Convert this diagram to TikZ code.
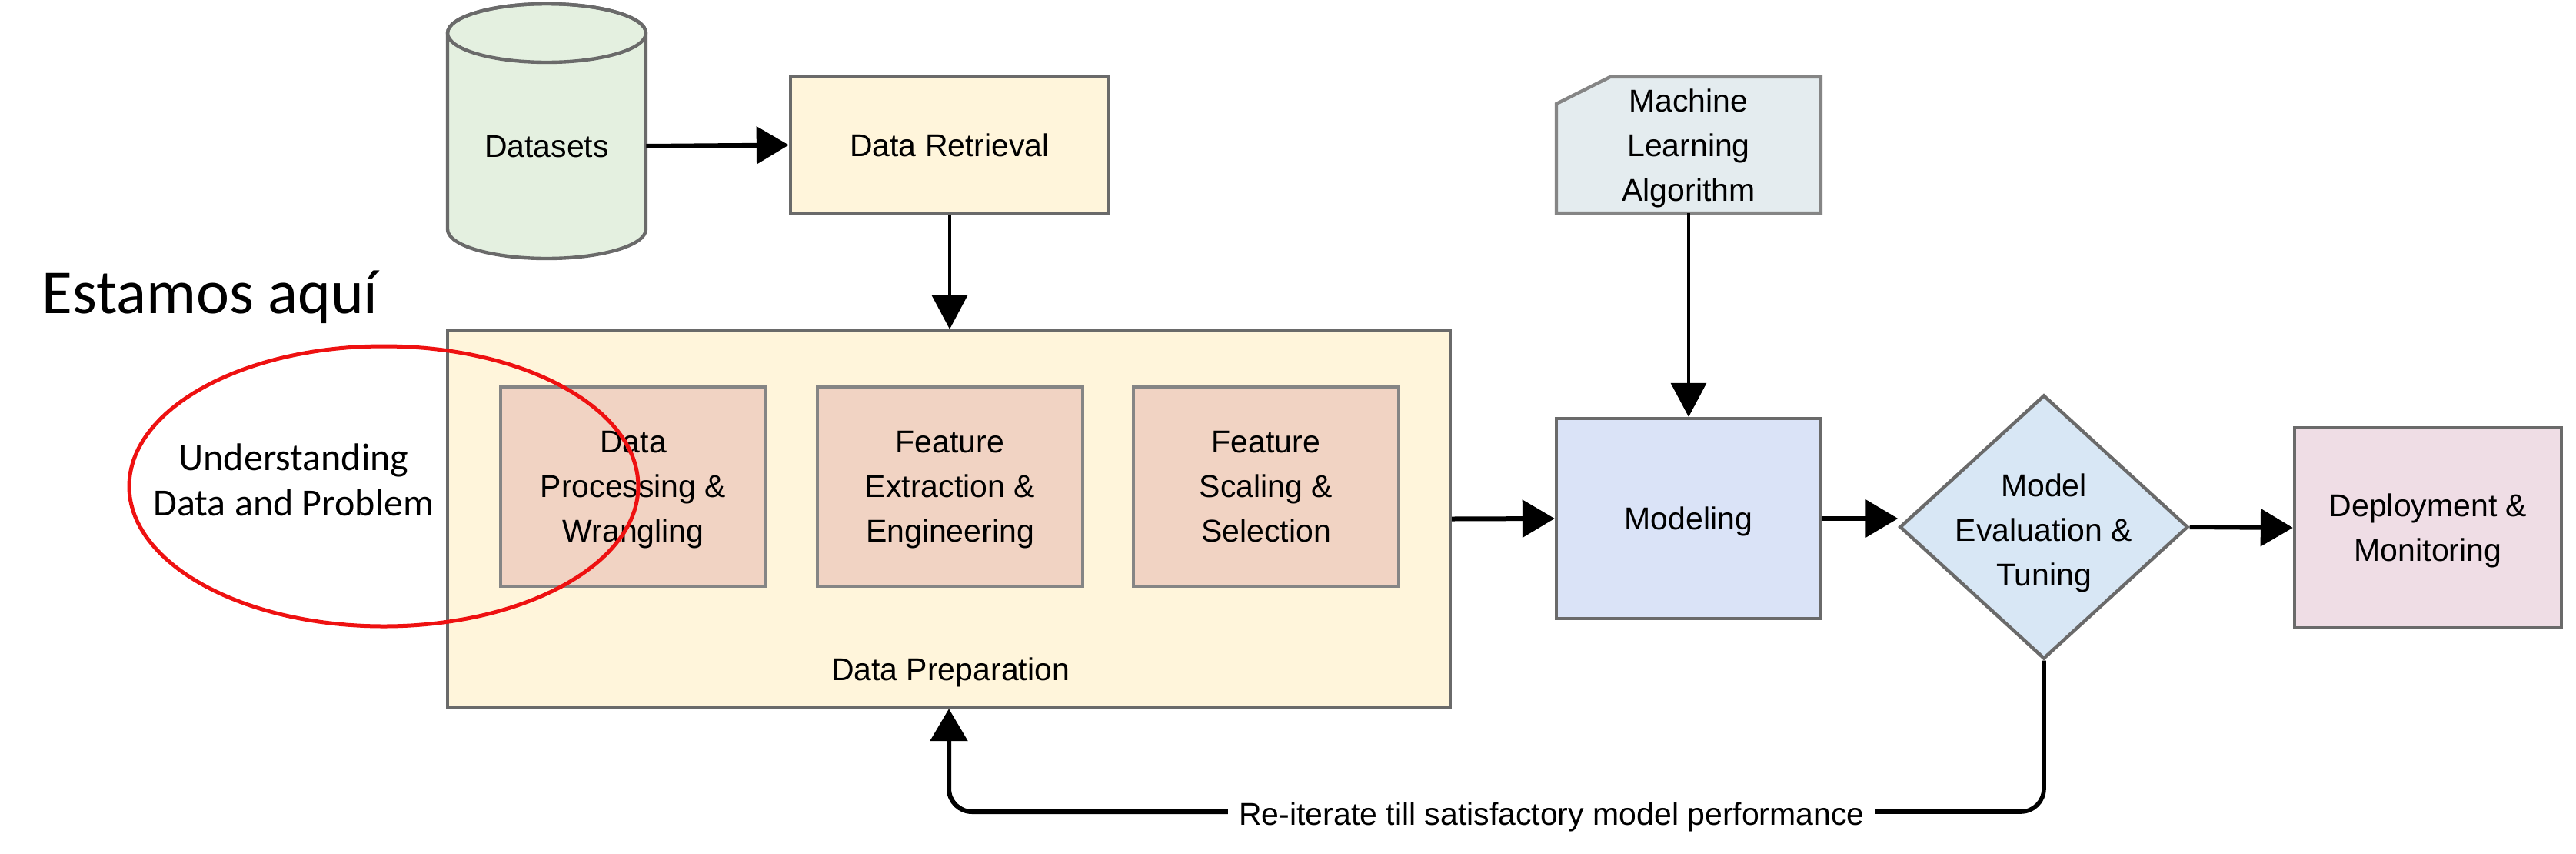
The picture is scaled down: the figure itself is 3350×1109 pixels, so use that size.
\documentclass[tikz,border=0pt]{standalone}
\usepackage{fontspec}
\setmainfont{Liberation Sans}
\newfontfamily\calfont{Carlito}
\usetikzlibrary{arrows.meta,shapes.geometric,calc}
\definecolor{bordergray}{HTML}{6A6A6A}
\definecolor{innergray}{HTML}{858585}
\definecolor{dsfill}{HTML}{E4F0E0}
\definecolor{yelfill}{HTML}{FFF5DB}
\definecolor{infill}{HTML}{F1D3C3}
\definecolor{mlfill}{HTML}{E4ECEF}
\definecolor{modfill}{HTML}{DAE3F7}
\definecolor{evalfill}{HTML}{D8E7F5}
\definecolor{depfill}{HTML}{EFDDE5}
\definecolor{circred}{HTML}{EE1111}
\begin{document}
\begin{tikzpicture}[x=0.5pt,y=-0.5pt,
  txt/.style={font=\fontsize{20.5}{29}\selectfont, align=center, text depth=0pt},
  box/.style={txt, draw=bordergray, line width=2.2pt, inner sep=0pt},
  inbox/.style={txt, draw=innergray, line width=2pt, inner sep=0pt, fill=infill,
    minimum width=172.5pt, minimum height=129.5pt},
  thickarrow/.style={line width=3pt, -{Triangle[width=24pt,length=21pt]}},
  thinarrow/.style={line width=1.75pt, -{Triangle[width=23pt,length=22pt]}},
  thickline/.style={line width=2.8pt}]
\fill[white] (0,0) rectangle (3350,1109);
\useasboundingbox (0,0) rectangle (3350,1109);

% Datasets cylinder
\filldraw[fill=dsfill, draw=bordergray, line width=2.2pt]
  (582,43) -- (582,298) arc[start angle=180,end angle=360,x radius=64.5pt,y radius=19pt]
  -- (840,43) arc[start angle=0,end angle=180,x radius=64.5pt,y radius=19pt] -- cycle;
\draw[draw=bordergray, line width=2.2pt] (711,43) ellipse[x radius=64.5pt,y radius=19pt];
\node[txt, minimum width=129pt, inner sep=0pt] (datasets) at (711,190) {Datasets};

% Data Retrieval
\node[box, fill=yelfill, minimum width=207pt, minimum height=88.5pt] (retrieval) at (1235,188.5) {Data Retrieval};

% Machine Learning Algorithm (chamfered)
\filldraw[fill=mlfill, draw=innergray, line width=2.2pt]
  (2024,277) -- (2024,135) -- (2094,100) -- (2368,100) -- (2368,277) -- cycle;
\node[txt, minimum width=172pt, minimum height=88.5pt, inner sep=0pt] (mla) at (2196,188.5) {Machine\\Learning\\Algorithm};

% Data Preparation
\node[box, fill=yelfill, minimum width=652pt, minimum height=244.5pt] (prep) at (1234,674.5) {};
\node[txt] (preplabel) at (1236,870) {Data Preparation};
\node[inbox] (b1) at (823.5,632.5) {Data\\Processing \&\\Wrangling};
\node[inbox] (b2) at (1235.5,632.5) {Feature\\Extraction \&\\Engineering};
\node[inbox] (b3) at (1646.5,632.5) {Feature\\Scaling \&\\Selection};

% Modeling
\node[box, fill=modfill, minimum width=172pt, minimum height=130pt] (modeling) at (2196,674) {Modeling};

% Evaluation diamond
\node[diamond, draw=bordergray, line width=2.2pt, fill=evalfill, inner sep=0pt,
  minimum width=187.5pt, minimum height=171.5pt] (eval) at (2658,685) {};
\node[txt] (evaltext) at (2658,689) {Model\\Evaluation \&\\Tuning};

% Deployment
\node[box, fill=depfill, minimum width=173.5pt, minimum height=130pt] (deploy) at (3157.5,686) {Deployment \&\\Monitoring};

% Connectors
\draw[thickarrow] (datasets.east) -- (retrieval.west);
\draw[thinarrow] (retrieval.south) -- (retrieval.south |- prep.north);
\draw[thinarrow] (mla.south) -- (modeling.north);
\draw[thickarrow] (prep.east) -- (modeling.west);
\draw[thickarrow] (modeling.east) -- (modeling.east -| eval.west);
\draw[thickarrow] (eval.east) -- (deploy.west);

% Feedback loop
\node[txt, inner xsep=7pt, inner ysep=0pt] (fb) at (2018,1057.5) {Re-iterate till satisfactory model performance};
\draw[thickline, rounded corners=15pt] (eval.south) |- ([yshift=1.25pt]fb.east);
\draw[thickarrow, rounded corners=15pt] ([yshift=1.25pt]fb.west) -| (prep.south);

% Annotation
\node[font=\calfont\fontsize{40.7}{48}\selectfont, anchor=base west, inner sep=0pt] (estamos) at (54,407) {Estamos aquí};
\node[font=\calfont\fontsize{25}{29.5}\selectfont, align=center] (understanding) at (382,623.5) {Understanding\\Data and Problem};
\node[ellipse, draw=circred, line width=2.5pt, inner sep=0pt, minimum width=331pt, minimum height=182pt] (here) at (499,632) {};
\end{tikzpicture}
\end{document}
